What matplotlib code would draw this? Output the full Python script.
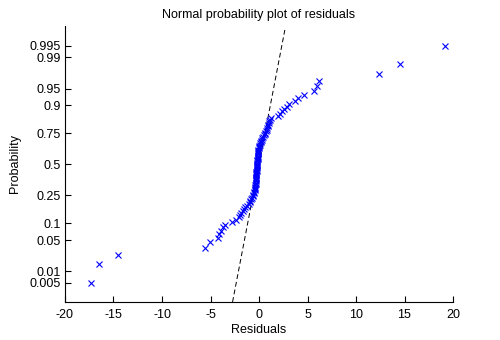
import numpy as np
import matplotlib
matplotlib.use('Agg')
import matplotlib.pyplot as plt
from statistics import NormalDist

# Sorted residuals (100 points)
residuals = [
    -17.3, -16.5, -14.5, -5.55, -5.1, -4.2, -4.15, -3.95, -3.75, -3.55,
    -2.75, -2.35, -2.05,
    -1.95, -1.85, -1.7, -1.55, -1.4, -1.25, -1.05, -0.95, -0.88, -0.8,
    -0.72, -0.65, -0.58, -0.52, -0.48, -0.45, -0.42, -0.40, -0.38,
    -0.37, -0.36, -0.35, -0.34, -0.33, -0.32, -0.31, -0.30, -0.29, -0.28,
    -0.27, -0.26, -0.25, -0.24, -0.23, -0.22, -0.21, -0.20, -0.19, -0.18,
    -0.17, -0.16, -0.15, -0.14, -0.13, -0.12, -0.11, -0.10, -0.09, -0.08,
    -0.07, -0.05, -0.03, 0.0,
    0.08, 0.12, 0.17, 0.22, 0.28, 0.35, 0.42, 0.5, 0.58, 0.65,
    0.72, 0.78, 0.84, 0.9, 0.95, 1.0, 1.06, 1.12, 1.2,
    2.0, 2.15, 2.4, 2.55, 2.85, 3.1, 3.7, 4.05, 4.67, 5.7,
    5.95, 6.15, 12.4, 14.5, 19.2,
]
prob_ticks = [0.005, 0.01, 0.05, 0.1, 0.25, 0.5, 0.75, 0.9, 0.95, 0.99, 0.995]
prob_labels = ['0.005', '0.01', '0.05', '0.1', '0.25', '0.5', '0.75', '0.9', '0.95', '0.99', '0.995']
x_ticks = [-20, -15, -10, -5, 0, 5, 10, 15, 20]

nd = NormalDist()
x = np.sort(np.array(residuals))
n = len(x)
p = (np.arange(1, n + 1) - 0.5) / n
z = np.array([nd.inv_cdf(v) for v in p])

# reference line through the quartiles
q1, q3 = np.percentile(x, [25, 75], method='hazen')
z1, z3 = nd.inv_cdf(0.25), nd.inv_cdf(0.75)
slope = (q3 - q1) / (z3 - z1)
zl = np.array([-2.99, 2.92])
xl = q1 + slope * (zl - z1)

plt.rcParams['font.family'] = ['Liberation Sans', 'DejaVu Sans']

fig = plt.figure(figsize=(5, 3.4), dpi=100)
ax = fig.add_axes([0.13, 0.112, 0.776, 0.812])

ax.plot(xl, zl, color='black', linestyle=(0, (5, 3)), linewidth=0.7)
ax.plot(x, z, linestyle='none', marker='x', color='blue', markersize=4, markeredgewidth=0.8)

ax.set_xlim(-20, 20)
ax.set_ylim(-2.99, 3.01)
ax.set_xticks(x_ticks)
ax.set_xticklabels([str(t) for t in x_ticks])
ax.set_yticks([nd.inv_cdf(v) for v in prob_ticks])
ax.set_yticklabels(prob_labels)

ax.spines['top'].set_visible(False)
ax.spines['right'].set_visible(False)
ax.spines['left'].set_linewidth(0.8)
ax.spines['bottom'].set_linewidth(0.8)
ax.tick_params(direction='in', length=4, width=0.8, labelsize=9)
ax.tick_params(axis='x', pad=5)
ax.tick_params(axis='y', pad=3)

ax.set_title('Normal probability plot of residuals', fontsize=9, pad=6)
ax.set_xlabel('Residuals', fontsize=9, labelpad=2)
ax.set_ylabel('Probability', fontsize=9, labelpad=6)

fig.savefig('out.png', dpi=100)
